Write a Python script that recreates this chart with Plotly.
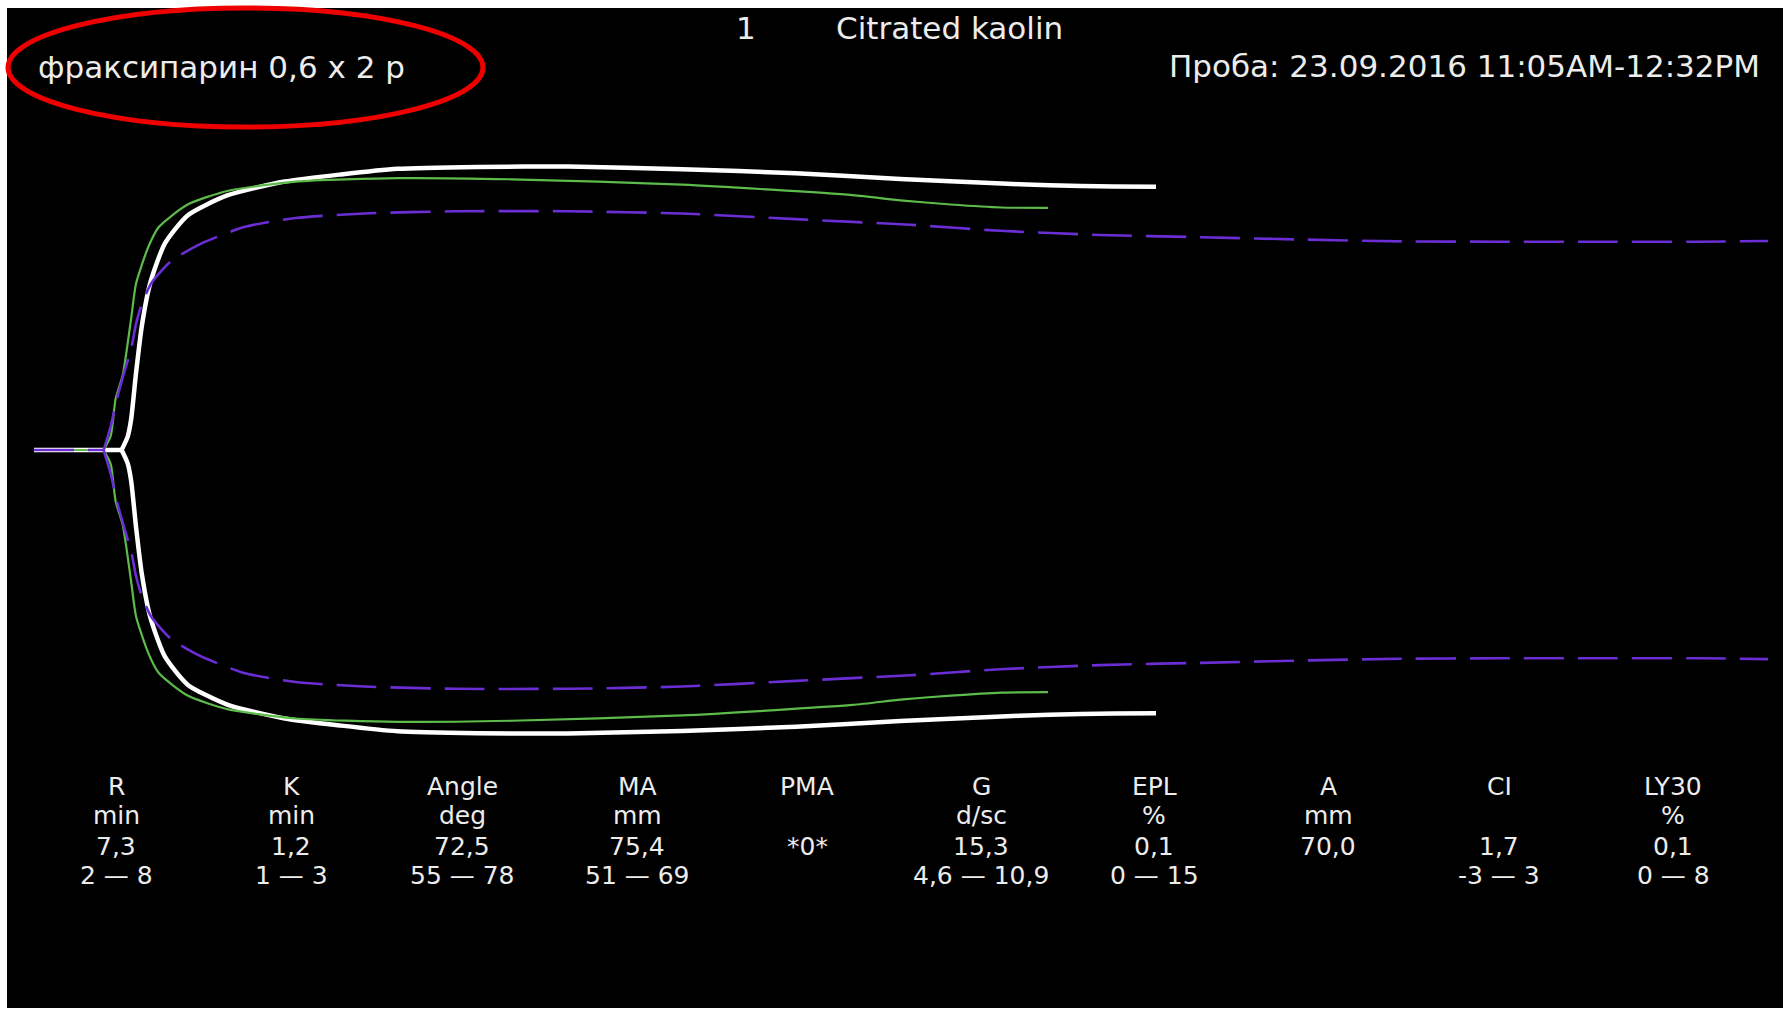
import plotly.graph_objects as go

# Thromboelastogram traces: time (min) and clot amplitude (mm).
# The first two points of each trace are the flat pre-clotting baseline.
white_t = [0, 7.3, 7.8, 8.1, 8.5, 9.0, 9.7, 10.9, 12.8, 16.1, 20.9, 25.6, 30.3, 37.0,
           44.5, 54.0, 63.5, 72.2, 79.7, 84.6, 90.0, 93.5]
white_a = [0, 0, 3.5, 8.3, 20.4, 33.3, 44.6, 54.9, 62.4, 67.7, 71.4, 73.3, 74.8, 75.3,
           75.4, 74.7, 73.6, 72.1, 71.0, 70.4, 70.1, 70.0]

green_t = [0, 5.8, 6.4, 6.8, 7.4, 8.1, 8.5, 9.5, 10.4, 12.8, 16.1, 21.8, 30.3, 39.8,
           54.0, 68.2, 72.2, 76.4, 80.6, 84.5]
green_a = [0, 0, 3.8, 13.6, 20.0, 35.1, 44.2, 53.8, 59.3, 65.3, 68.9, 71.4, 72.3, 72.0,
           70.6, 67.8, 66.4, 65.3, 64.5, 64.4]

purple_t = [0, 5.8, 6.4, 6.9, 7.4, 8.1, 8.5, 9.0, 9.8, 11.4, 13.8, 17.5, 21.8, 27.5,
            35.1, 44.5, 54.0, 63.5, 73.0, 80.5, 88.8, 97.2, 105.5, 113.8, 122.2, 130.5,
            138.8, 144.5]
purple_a = [0, 0, 6.4, 13.5, 19.4, 27.0, 33.5, 39.0, 44.5, 50.2, 54.7, 59.3, 61.7, 62.9,
            63.5, 63.5, 62.9, 61.4, 59.9, 58.3, 57.2, 56.6, 56.0, 55.5, 55.4, 55.4,
            55.4, 55.6]

# Result table
param_names = ["R", "K", "Angle", "MA", "PMA", "G", "EPL", "A", "CI", "LY30"]
param_units = ["min", "min", "deg", "mm", "", "d/sc", "%", "mm", "", "%"]
param_values = ["7,3", "1,2", "72,5", "75,4", "*0*", "15,3", "0,1", "70,0", "1,7", "0,1"]
param_ranges = ["2 — 8", "1 — 3", "55 — 78", "51 — 69", "", "4,6 — 10,9", "0 — 15", "",
                "-3 — 3", "0 — 8"]

patient_note = "фраксипарин 0,6 x 2 р"
channel_no = "1"
test_type = "Citrated kaolin"
sample_info = "Проба: 23.09.2016 11:05AM-12:32PM"

W, H = 1783, 1011
ML, MR, MT, MB = 7, 0, 8, 3
PW, PH = W - ML - MR, H - MT - MB


def px(x):
    return (x - ML) / PW


def py(y):
    return 1 - (y - MT) / PH


fig = go.Figure()

traces = [
    (white_t, white_a, dict(color="#ffffff", width=4.5)),
    (green_t, green_a, dict(color="#5cbb4a", width=2.2)),
    (purple_t, purple_a, dict(color="#6a2ed4", width=2.6, dash="40px,14px")),
]
for t, a, line in traces:
    # flat baseline before the split
    fig.add_trace(go.Scatter(
        x=t[:2], y=a[:2], mode="lines", line=line,
        hoverinfo="skip", showlegend=False,
    ))
    # upper and lower branches of the trace
    for sign in (1, -1):
        fig.add_trace(go.Scatter(
            x=t[1:], y=[sign * v / 2 for v in a[1:]], mode="lines",
            line=dict(shape="spline", smoothing=0.6, **line),
            hoverinfo="skip", showlegend=False,
        ))

font = "DejaVu Sans"
txt = "#ececec"
hsize = 31
ann = []
ann.append(dict(x=px(746), y=py(28), text=channel_no, xanchor="center",
                yanchor="middle", font=dict(family=font, size=hsize, color=txt)))
ann.append(dict(x=px(834), y=py(28), text=test_type, xanchor="left",
                yanchor="middle", font=dict(family=font, size=hsize, color=txt)))
ann.append(dict(x=px(1762), y=py(66), text=sample_info, xanchor="right",
                yanchor="middle", font=dict(family=font, size=hsize, color=txt)))
ann.append(dict(x=px(36), y=py(67), text=patient_note, xanchor="left",
                yanchor="middle", font=dict(family=font, size=hsize, color=txt)))

col_x = [116, 291, 462, 637, 807, 981, 1154, 1328, 1499, 1673]
row_y = [786, 815, 846, 875]
for i, cx in enumerate(col_x):
    for r, row in enumerate([param_names, param_units, param_values, param_ranges]):
        if row[i]:
            ann.append(dict(x=px(cx), y=py(row_y[r]), text=row[i], xanchor="center",
                            yanchor="middle",
                            font=dict(family=font, size=25, color=txt)))
for a in ann:
    a.update(xref="paper", yref="paper", showarrow=False)

fig.update_layout(
    width=W, height=H,
    margin=dict(l=ML, r=MR, t=MT, b=MB),
    paper_bgcolor="#ffffff",
    plot_bgcolor="#000000",
    xaxis=dict(range=[-2.25, 145.75], visible=False, showgrid=False, zeroline=False),
    yaxis=dict(range=[-74.2, 58.78], visible=False, showgrid=False, zeroline=False),
    annotations=ann,
    shapes=[dict(type="circle", xref="paper", yref="paper",
                 x0=px(8), x1=px(483), y0=py(127), y1=py(8),
                 line=dict(color="#ee0000", width=5))],
)

fig.write_html("out.html")
